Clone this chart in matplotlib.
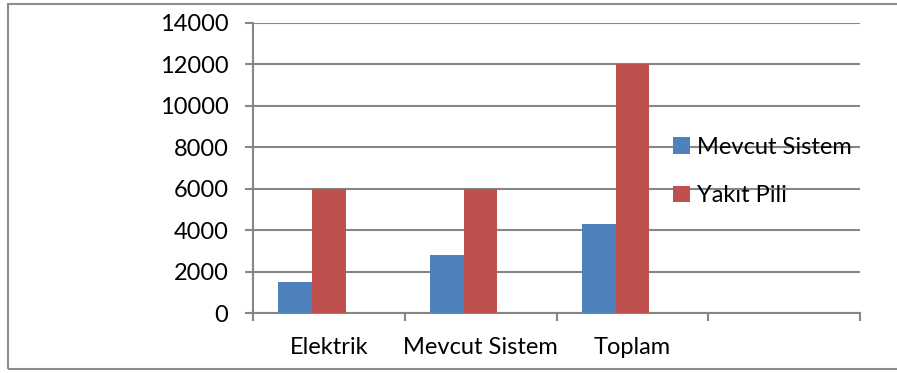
import matplotlib
matplotlib.use("Agg")
import matplotlib.pyplot as plt
from matplotlib.patches import Rectangle
import numpy as np

categories = ["Elektrik", "Mevcut Sistem", "Toplam", ""]
mevcut_sistem = [1500, 2800, 4300]
yakit_pili = [6000, 6000, 12000]
series_names = ["Mevcut Sistem", "Yakıt Pili"]
y_ticks = [0, 2000, 4000, 6000, 8000, 10000, 12000, 14000]

BLUE = "#4F81BD"
RED = "#C0504D"
GRID = "#868686"

plt.rcParams["font.family"] = ["Lato", "DejaVu Sans"]
plt.rcParams["font.size"] = 17

W, H = 897, 373
fig = plt.figure(figsize=(W / 100, H / 100), dpi=100)

# outer chart frame
fig.patches.append(Rectangle((8 / W, 4 / H), 1.2, (369 - 4) / H, transform=fig.transFigure,
                             fill=False, edgecolor="#8c8c8c", linewidth=1.5))

ax = fig.add_axes([253 / W, (H - 313) / H, (860 - 253) / W, (313 - 23) / H])

n_slots = 3  # clustered layout with gap width of 150%
bw = 1 / (n_slots + 1.5)
idx = np.arange(len(mevcut_sistem))
ax.bar(idx - bw, mevcut_sistem, width=bw, color=BLUE, label=series_names[0], zorder=3)
ax.bar(idx, yakit_pili, width=bw, color=RED, label=series_names[1], zorder=3)

ax.set_xlim(-0.5, len(categories) - 0.5)
ax.set_ylim(0, 14000)
ax.set_yticks(y_ticks)
ax.set_yticklabels([str(v) for v in y_ticks])
ax.yaxis.grid(True, color=GRID, linewidth=1.5, zorder=0)
ax.set_axisbelow(True)

ax.set_xticks(np.arange(len(categories)))
ax.set_xticklabels(categories)
ax.set_xticks(np.arange(len(categories) + 1) - 0.5, minor=True)
ax.tick_params(axis="x", which="major", length=0, pad=17)
ax.tick_params(axis="x", which="minor", length=5.5, width=1.5, color=GRID)
ax.tick_params(axis="y", length=5.8, width=1.5, color=GRID, pad=12)

for s in ["top", "right"]:
    ax.spines[s].set_visible(False)
for s in ["left", "bottom"]:
    ax.spines[s].set_color(GRID)
    ax.spines[s].set_linewidth(1.5)

leg = ax.legend(loc="upper left", bbox_to_anchor=(673 / W, 1 - 137 / H), bbox_transform=fig.transFigure,
                frameon=False, handlelength=0.7, handleheight=0.7, handletextpad=0.3,
                labelspacing=1.15, borderpad=0, borderaxespad=0)

fig.savefig("out.png", dpi=100)
